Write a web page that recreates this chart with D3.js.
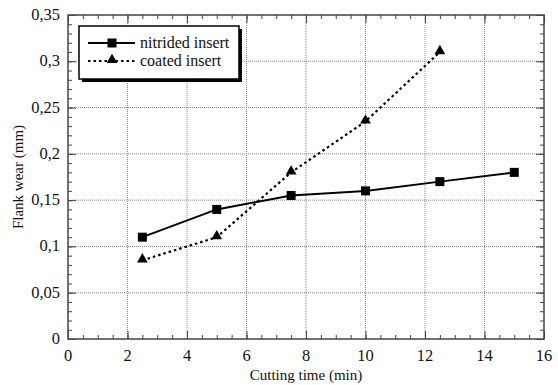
<!DOCTYPE html>
<html>
<head>
<meta charset="utf-8">
<script src="https://cdn.jsdelivr.net/npm/d3@7"></script>
<style>
  body { margin: 0; background: #fff; }
</style>
</head>
<body>
<svg width="558" height="385"></svg>
<script>
// data
var times = [2.5, 5, 7.5, 10, 12.5, 15];
var nitrided = [0.11, 0.14, 0.155, 0.16, 0.17, 0.18];
var coatedTimes = [2.5, 5, 7.5, 10, 12.5];
var coated = [0.085, 0.11, 0.18, 0.235, 0.31];
var xTicks = [0, 2, 4, 6, 8, 10, 12, 14, 16];
var yTicks = [0, 0.05, 0.1, 0.15, 0.2, 0.25, 0.3, 0.35];
var yLabels = ["0", "0,05", "0,1", "0,15", "0,2", "0,25", "0,3", "0,35"];

var svg = d3.select("svg");
// note: "top" is window.top, can't use it as a global
var pL = 68, pR = 544, pT = 15, pB = 339;
var serif = "Liberation Serif";

var x = d3.scaleLinear().domain([0, 16]).range([pL, pR]);
var y = d3.scaleLinear().domain([0, 0.35]).range([pB, pT]);

// grid
var grid = svg.append("g");
grid.selectAll("line.gx").data(xTicks.slice(1, -1)).enter().append("line")
  .attr("x1", function(d){ return x(d); }).attr("x2", function(d){ return x(d); })
  .attr("y1", pT).attr("y2", pB)
  .attr("stroke", "#888").attr("stroke-width", 1).attr("stroke-dasharray", "1,1");
grid.selectAll("line.gy").data(yTicks.slice(1, -1)).enter().append("line")
  .attr("y1", function(d){ return y(d); }).attr("y2", function(d){ return y(d); })
  .attr("x1", pL).attr("x2", pR)
  .attr("stroke", "#888").attr("stroke-width", 1).attr("stroke-dasharray", "1,1");

// axes with inward ticks on all four sides
var xMinor = d3.range(0, 16.01, 0.5);
var yMinor = d3.range(0, 0.3501, 0.01);
function tickSet(axis, vals, size) {
  return axis.tickValues(vals).tickSize(size).tickFormat("");
}
svg.append("g").attr("transform", "translate(0," + pB + ")")
  .call(tickSet(d3.axisTop(x), xMinor, 4));
svg.append("g").attr("transform", "translate(0," + pB + ")")
  .call(tickSet(d3.axisTop(x), xTicks, 8));
svg.append("g").attr("transform", "translate(0," + pT + ")")
  .call(tickSet(d3.axisBottom(x), xMinor, 4));
svg.append("g").attr("transform", "translate(0," + pT + ")")
  .call(tickSet(d3.axisBottom(x), xTicks, 8));
svg.append("g").attr("transform", "translate(" + pL + ",0)")
  .call(tickSet(d3.axisRight(y), yMinor, 4));
svg.append("g").attr("transform", "translate(" + pL + ",0)")
  .call(tickSet(d3.axisRight(y), yTicks, 8));
svg.append("g").attr("transform", "translate(" + pR + ",0)")
  .call(tickSet(d3.axisLeft(y), yMinor, 4));
svg.append("g").attr("transform", "translate(" + pR + ",0)")
  .call(tickSet(d3.axisLeft(y), yTicks, 8));
svg.selectAll(".domain").remove();
svg.selectAll(".tick line").attr("stroke", "#444").attr("stroke-width", 1);

svg.append("rect").attr("x", pL).attr("y", pT)
  .attr("width", pR - pL).attr("height", pB - pT)
  .attr("fill", "none").attr("stroke", "#444").attr("stroke-width", 1.5);

// tick labels
svg.selectAll("text.xl").data(xTicks).enter().append("text")
  .attr("x", function(d){ return x(d); }).attr("y", 361)
  .attr("text-anchor", "middle").attr("font-size", 16.5).style("font-family", serif)
  .attr("fill", "#111")
  .text(function(d){ return d; });
svg.selectAll("text.yl").data(yTicks).enter().append("text")
  .attr("x", 60).attr("y", function(d){ return y(d) + 5; })
  .attr("text-anchor", "end").attr("font-size", 16.5).style("font-family", serif)
  .attr("fill", "#111")
  .text(function(d, i){ return yLabels[i]; });

svg.append("text").attr("x", 306).attr("y", 380)
  .attr("text-anchor", "middle").attr("font-size", 15).style("font-family", serif)
  .attr("fill", "#111")
  .text("Cutting time (min)");
svg.append("text").attr("transform", "translate(23," + ((pT + pB) / 2) + ") rotate(-90)")
  .attr("text-anchor", "middle").attr("font-size", 15).style("font-family", serif)
  .attr("fill", "#111")
  .text("Flank wear (mm)");

// series
var nitData = times.map(function(t, i){ return [t, nitrided[i]]; });
var coatData = coatedTimes.map(function(t, i){ return [t, coated[i]]; });
var line = d3.line().x(function(d){ return x(d[0]); }).y(function(d){ return y(d[1]); });

svg.append("path").datum(nitData).attr("d", line)
  .attr("fill", "none").attr("stroke", "#000").attr("stroke-width", 2);
svg.append("path").datum(coatData).attr("d", line)
  .attr("fill", "none").attr("stroke", "#000").attr("stroke-width", 2.2)
  .attr("stroke-dasharray", "2.5,3");

var sq = d3.symbol().type(d3.symbolSquare).size(81);
var tri = d3.symbol().type(d3.symbolTriangle).size(50);
svg.selectAll("path.sq").data(nitData).enter().append("path")
  .attr("d", sq).attr("fill", "#000")
  .attr("transform", function(d){ return "translate(" + x(d[0]) + "," + y(d[1]) + ")"; });
svg.selectAll("path.tri").data(coatData).enter().append("path")
  .attr("d", tri).attr("fill", "#000")
  .attr("transform", function(d){ return "translate(" + x(d[0]) + "," + (y(d[1]) - 1) + ")"; });

// legend
var lg = svg.append("g");
lg.append("rect").attr("x", 82).attr("y", 29).attr("width", 160).attr("height", 53).attr("fill", "#000");
lg.append("rect").attr("x", 79).attr("y", 26).attr("width", 160).attr("height", 53)
  .attr("fill", "#fff").attr("stroke", "#000").attr("stroke-width", 1.5);
lg.append("line").attr("x1", 88).attr("x2", 135).attr("y1", 43).attr("y2", 43)
  .attr("stroke", "#000").attr("stroke-width", 2);
lg.append("path").attr("d", sq).attr("fill", "#000").attr("transform", "translate(112,43)");
lg.append("line").attr("x1", 88).attr("x2", 135).attr("y1", 61).attr("y2", 61)
  .attr("stroke", "#000").attr("stroke-width", 2).attr("stroke-dasharray", "2.5,3");
lg.append("path").attr("d", tri).attr("fill", "#000").attr("transform", "translate(112,60)");
lg.append("text").attr("x", 140).attr("y", 48).attr("font-size", 16).style("font-family", serif)
  .attr("fill", "#111").text("nitrided insert");
lg.append("text").attr("x", 140).attr("y", 66).attr("font-size", 16).style("font-family", serif)
  .attr("fill", "#111").text("coated insert");
</script>
</body>
</html>
